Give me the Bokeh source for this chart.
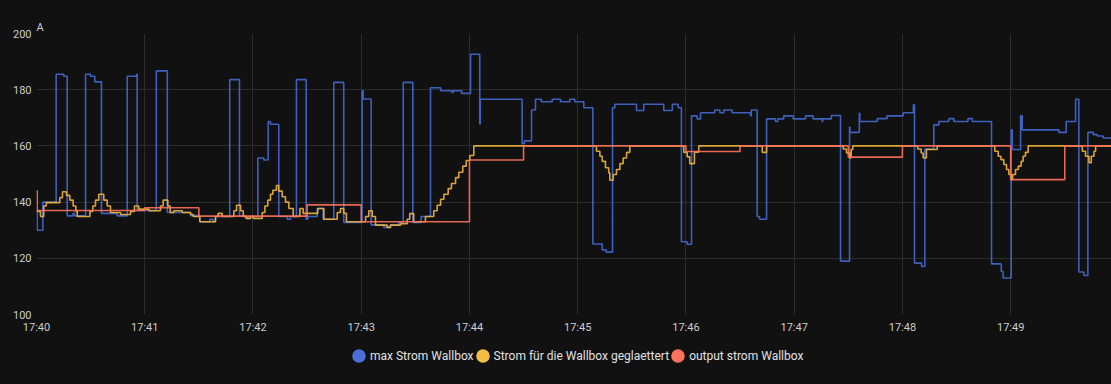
import pandas as pd
from bokeh.plotting import figure
from bokeh.layouts import column
from bokeh.models import (Range1d, FixedTicker, DatetimeTickFormatter, Legend, LegendItem)
from bokeh.embed import file_html
from bokeh.resources import INLINE

# ---------------- data (time = seconds after 17:40:00, value in A) ----------------
DAY = "2024-01-01"
START = "17:40:00"
END_SECONDS = 595.9

max_t = [0, 0.4, 3.5, 10.9, 15.1, 17.0, 20.3, 21.1, 27.2, 29.9, 32.3, 36.0, 44.7, 50.3, 55.4, 55.8,
         66.4, 72.5, 85.4, 90.5, 96.1, 97.9, 99.2, 107.1, 112.5, 115.9, 118.6, 122.7, 126.0, 128.4,
         129.7, 134.3, 139.0, 140.8, 144.1, 149.5, 150.4, 155.6, 158.9, 164.8, 170.3, 180.5, 181.1,
         185.5, 192.5, 196.2, 200.8, 203.3, 208.6, 213.2, 218.4, 224.0, 230.4, 231.0, 235.6, 240.6,
         245.7, 246.0, 269.2, 270.5, 274.4, 276.6, 279.8, 285.9, 290.5, 295.6, 298.4, 303.4, 308.4,
         313.6, 315.8, 319.3, 320.6, 332.6, 336.6, 347.7, 352.5, 355.7, 357.5, 360.7, 363.1, 366.2,
         368.1, 376.0, 378.8, 381.0, 385.6, 395.8, 396.2, 399.5, 400.8, 404.7, 409.6, 410.9, 414.2,
         419.5, 426.3, 430.5, 435.5, 435.8, 440.6, 445.7, 450.7, 450.9, 456.1, 456.4, 466.0, 471.5,
         480.4, 486.1, 486.7, 490.6, 492.4, 497.4, 500.2, 505.7, 508.5, 516.3, 518.8, 529.4, 534.8,
         535.8, 540.3, 540.9, 545.5, 546.4, 566.7, 570.8, 576.0, 577.8, 580.6, 582.8, 585.8, 588.0,
         591.3]
max_v = [137, 130, 140, 185.5, 184.8, 135.1, 136, 135.1, 185.5, 184.8, 182.8, 136, 135.1, 184.8, 185.5, 137,
         186.7, 136.3, 135.2, 133, 133.9, 133, 134.9, 183.6, 135, 134.2, 134.9, 155.7, 155, 168.7,
         167.7, 134.9, 133.9, 134.9, 183.6, 133.9, 134.9, 137.7, 133.9, 182.6, 132.8, 179.6, 176.7,
         131.9, 131, 131.9, 132.8, 182.6, 132.8, 134.9, 180.7, 179.6, 179.0, 179.6, 178.7, 192.6,
         167.8, 176.6, 160.8, 161.8, 172.8, 176.6, 175.7, 176.6, 175.7, 176.6, 175.7, 173.6, 125.1,
         123, 122.2, 173.6, 174.8, 172.6, 174.8, 172.6, 174.8, 173.6, 125.9, 125, 170.7, 169.6,
         171.8, 172.8, 171.8, 172.8, 171.8, 170.7, 172.8, 134.9, 133.9, 169.6, 168.7, 169.6, 170.7,
         169.6, 170.7, 169.6, 168.7, 169.6, 170.8, 119, 166.7, 164.8, 171.6, 168.7, 169.7, 170.7,
         171.8, 174.6, 118.3, 117.1, 158.9, 167.5, 168.7, 169.7, 168.7, 169.7, 168.7, 118, 115.3,
         113, 165.7, 158.7, 170.7, 165.7, 164.8, 168.7, 176.6, 115.1, 113.9, 164.8, 164, 163.5,
         162.8]

glatt_t = [0, 2.2, 4.0, 5.4, 12.9, 14.4, 16.6, 18.5, 20.3, 21.8, 22.6, 29.6, 31.2, 32.7, 34.5, 37.3,
           39.2, 41.0, 46.6, 52.1, 54.3, 56.7, 62.3, 68.7, 70.2, 72.8, 74.1, 76.1, 80.8, 85.4, 86.9,
           90.5, 99.2, 100.7, 102.9, 109.4, 110.9, 113.1, 114.6, 116.4, 118.6, 120.1, 125.1, 126.6,
           128.2, 129.7, 131.0, 133.0, 134.3, 136.2, 138.0, 139.9, 142.3, 146.0, 147.8, 155.9, 159.3,
           166.7, 168.5, 170.3, 171.8, 182.4, 184.2, 186.1, 187.9, 194.4, 196.2, 201.8, 205.5, 206.9,
           209.1, 215.6, 220.2, 222.1, 224.0, 225.8, 228.2, 230.0, 232.3, 234.1, 236.3, 238.2, 240.2,
           242.4, 310.4, 312.3, 313.6, 315.4, 317.2, 317.8, 319.7, 321.5, 323.4, 325.2, 327.1, 328.9,
           358.8, 360.7, 362.1, 364.7, 367.1, 402.3, 404.7, 447.2, 449.0, 450.9, 451.6, 452.5, 488.5,
           490.4, 491.5, 493.3, 499.3, 531.2, 533.1, 534.6, 536.2, 537.7, 539.0, 540.3, 541.1, 542.7,
           544.2, 545.8, 546.9, 548.2, 549.7, 579.7, 581.5, 583.4, 584.7, 586.2, 587.1]
glatt_v = [136.7, 134.9, 138.6, 139.8, 141.6, 143.7, 142.4, 140.7, 138.6, 136.7, 134.9, 136.7, 138.6, 140.7, 142.8, 140.7,
           138.6, 136.3, 135.6, 136.7, 138.6, 137.5, 136.9, 138.6, 140.7, 138.6, 136.3, 136.9, 136.3, 135.6, 134.9,
           133.0, 134.9, 136.0, 134.9, 136.9, 138.9, 136.9, 134.9, 134.2, 134.9, 134.2, 136.3, 138.6,
           140.7, 142.8, 144.2, 145.9, 143.9, 141.9, 140.0, 137.7, 134.9, 137.7, 136.0, 137.7, 133.9,
           136.3, 137.7, 136.0, 133.0, 134.9, 136.9, 134.9, 131.8, 131.0, 131.8, 132.3, 133.9, 135.9,
           133.0, 134.9, 136.9, 138.9, 141.0, 142.8, 144.8, 146.6, 148.7, 150.6, 152.8, 154.8, 156.6,
           160, 158.1, 156.3, 154.5, 152.2, 150.4, 147.8, 149.8, 151.6, 153.7, 155.7, 157.7, 160,
           157.7, 156.1, 153.7, 157.8, 160, 157.7, 160, 158.9, 157.5, 155.7, 158.7, 160, 158.9,
           157.5, 155.7, 158.7, 160, 158.1, 156.3, 155.1, 153.4, 151.6, 149.8, 148.1, 149.8, 151.6,
           152.8, 154.5, 156.3, 157.7, 160, 158.1, 156.3, 154.0, 156.3, 158.1, 160]

out_t = [0, 0.4, 60, 90, 150, 180, 240, 270, 360, 390, 450, 480, 540, 570]
out_v = [144, 137, 138, 135, 139, 133, 155, 160, 158, 160, 156, 160, 148, 160]

series_names = ["max Strom Wallbox", "Strom für die Wallbox geglaettert", "output strom Wallbox"]
line_colors = ["#4269d0", "#f0b53a", "#ff725c"]
legend_colors = ["#4a70d8", "#f4bb45", "#ff725c"]

x_tick_labels = ["17:40", "17:41", "17:42", "17:43", "17:44", "17:45", "17:46", "17:47", "17:48", "17:49"]
y_ticks = [100, 120, 140, 160, 180, 200]
y_unit = "A"

# ---------------- build ----------------
base = pd.Timestamp(f"{DAY} {START}")


def to_dt(secs):
    return base + pd.to_timedelta(list(secs), unit="s")


x_start = base
x_end = base + pd.Timedelta(seconds=END_SECONDS)

BG = "#111111"
GRID = "#2c2c2c"
TXT = "#cccccc"

p = figure(
    output_backend="svg", toolbar_location=None,
    width=1111, height=336,
    min_border_left=36, min_border_right=0, min_border_top=33, min_border_bottom=20,
    x_range=Range1d(x_start, x_end), y_range=Range1d(100, 200),
    x_axis_type="datetime",
    background_fill_color=BG, border_fill_color=BG, outline_line_color=None,
    title=y_unit,
)

p.title.text_color = TXT
p.title.text_font = "Roboto"
p.title.text_font_size = "11px"
p.title.text_font_style = "normal"
p.title.align = "left"
p.title.standoff = 0
p.title.offset = 0

tick_ms = [pd.Timestamp(f"{DAY} {lab}").value // 10**6 for lab in x_tick_labels]
p.xaxis.ticker = FixedTicker(ticks=tick_ms)
fmt = "%H:%M"
p.xaxis.formatter = DatetimeTickFormatter(seconds=fmt, minsec=fmt, minutes=fmt, hourmin=fmt, hours=fmt)
p.yaxis.ticker = FixedTicker(ticks=y_ticks)

for ax in (p.xaxis, p.yaxis):
    ax.axis_line_color = None
    ax.major_tick_line_color = None
    ax.minor_tick_line_color = None
    ax.major_tick_out = 0
    ax.major_tick_in = 0
    ax.minor_tick_out = 0
    ax.minor_tick_in = 0
    ax.major_label_text_color = TXT
    ax.major_label_text_font = "Roboto"
    ax.major_label_text_font_size = "11px"
p.xaxis.major_label_standoff = 6
p.yaxis.major_label_standoff = 5

p.xgrid.grid_line_color = GRID
p.ygrid.grid_line_color = GRID
p.xgrid.ticker = FixedTicker(ticks=tick_ms)
p.ygrid.ticker = FixedTicker(ticks=y_ticks)

all_t = [max_t, glatt_t, out_t]
all_v = [max_v, glatt_v, out_v]
for t, v, c in zip(all_t, all_v, line_colors):
    xs = to_dt(list(t) + [END_SECONDS])
    ys = list(v) + [v[-1]]
    p.step(xs, ys, mode="after", line_color=c, line_width=1.6, line_alpha=0.9)

# ---- legend strip below the chart (frame aligned with the chart frame) ----
lf = figure(
    output_backend="svg", toolbar_location=None,
    width=1111, height=48,
    min_border_left=36, min_border_right=0, min_border_top=0, min_border_bottom=0,
    x_range=Range1d(0, 1), y_range=Range1d(0, 1),
    x_axis_location=None, y_axis_location=None,
    background_fill_color=BG, border_fill_color=BG, outline_line_color=None,
)
lf.grid.visible = False

items = []
for name, c in zip(series_names, legend_colors):
    # legend proxy: one round swatch placed outside the strip's visible range,
    # so only its legend dot is drawn
    r = lf.ellipse(x=[2], y=[2], width=14, height=14, width_units="screen", height_units="screen",
                   fill_color=c, line_color=None)
    items.append(LegendItem(label=name, renderers=[r]))

legend = Legend(items=items, orientation="horizontal", location=(314, 20),
                glyph_width=17, glyph_height=17, label_standoff=3, spacing=0,
                padding=0, margin=0, background_fill_alpha=0, border_line_alpha=0,
                label_text_color="#e1e1e1", label_text_font="Roboto", label_text_font_size="12px")
lf.add_layout(legend)

layout = column(p, lf, spacing=0)
layout.styles = {"position": "absolute", "left": "0px", "top": "0px",
                 "background-color": BG}

open("out.html", "w").write(file_html(layout, INLINE))
